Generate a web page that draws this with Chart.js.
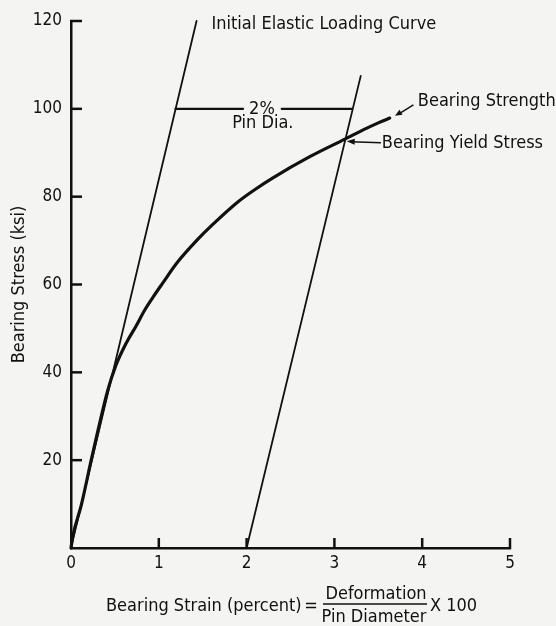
<!DOCTYPE html>
<html>
<head>
<meta charset="utf-8">
<script src="https://cdn.jsdelivr.net/npm/chart.js@4.4.1/dist/chart.umd.min.js"></script>
<style>
  html, body { margin: 0; padding: 0; background: #f4f4f2; }
  #wrap { width: 556px; height: 626px; position: relative; }
  canvas { display: block; }
</style>
</head>
<body>
<div id="wrap"><canvas id="c" width="556" height="626"></canvas></div>
<script>
// ---- Data ----
const curveStrain = [0, 0.02, 0.12, 0.23, 0.31, 0.42, 0.51, 0.63, 0.74, 0.84, 0.94, 1.04, 1.21, 1.44, 1.60, 1.90, 2.10, 2.30, 2.72, 3.12, 3.37, 3.50, 3.63];
const curveStress = [0, 2.6, 10, 20, 27, 36, 41.5, 46.7, 50.5, 54.2, 57.3, 60.2, 65, 70.2, 73.4, 78.8, 81.7, 84.3, 89.1, 93.1, 95.6, 96.8, 97.9];

const elasticStrain = [0, 1.43];
const elasticStress = [0, 120];

const offsetStrain = [2.0, 3.30];
const offsetStress = [0, 107.5];

const barLeftStrain = [1.19, 1.96];
const barRightStrain = [2.40, 3.20];
const barStress = [100, 100];

const xTicks = [0, 1, 2, 3, 4, 5];
const yTicks = [0, 20, 40, 60, 80, 100, 120];

const FONT = "'DejaVu Sans Condensed', 'Liberation Sans Narrow', 'Arial Narrow', sans-serif";
const INK = '#111111';

function pts(xs, ys) { return xs.map((x, i) => ({ x: x, y: ys[i] })); }

const lineDs = (data, w, smooth) => ({
  data: data, borderColor: INK, borderWidth: w, pointRadius: 0,
  fill: false, tension: smooth ? 0.4 : 0, cubicInterpolationMode: smooth ? 'monotone' : 'default',
  showLine: true, clip: false, borderCapStyle: 'round', borderJoinStyle: 'round'
});

const inwardTicks = {
  id: 'inwardTicks',
  afterDatasetsDraw(chart) {
    const ctx = chart.ctx;
    const xs = chart.scales.x, ys = chart.scales.y;
    ctx.save();
    ctx.strokeStyle = INK;
    ctx.lineWidth = 2.5;
    ctx.lineCap = 'butt';
    const x0 = xs.getPixelForValue(0);
    yTicks.forEach(v => {
      if (v === 0) return;
      const py = ys.getPixelForValue(v);
      ctx.beginPath(); ctx.moveTo(x0 - 1, py); ctx.lineTo(x0 + 11, py); ctx.stroke();
    });
    const y0 = ys.getPixelForValue(0);
    xTicks.forEach(v => {
      if (v === 0) return;
      const px = xs.getPixelForValue(v);
      ctx.beginPath(); ctx.moveTo(px, y0 + 1); ctx.lineTo(px, y0 - 10); ctx.stroke();
    });
    ctx.restore();
  }
};

function arrowHead(ctx, fx, fy, tx, ty, len, wid) {
  const a = Math.atan2(ty - fy, tx - fx);
  ctx.beginPath();
  ctx.moveTo(tx, ty);
  ctx.lineTo(tx - len * Math.cos(a) + wid * Math.sin(a), ty - len * Math.sin(a) - wid * Math.cos(a));
  ctx.lineTo(tx - len * Math.cos(a) - wid * Math.sin(a), ty - len * Math.sin(a) + wid * Math.cos(a));
  ctx.closePath();
  ctx.fill();
}

const annotations = {
  id: 'annotations',
  afterDraw(chart) {
    const ctx = chart.ctx;
    const xs = chart.scales.x, ys = chart.scales.y;
    const X = v => xs.getPixelForValue(v), Y = v => ys.getPixelForValue(v);
    ctx.save();
    ctx.fillStyle = INK;
    ctx.strokeStyle = INK;
    ctx.font = '18px ' + FONT;
    ctx.textBaseline = 'middle';

    // Initial Elastic Loading Curve
    ctx.textAlign = 'left';
    ctx.fillText('Initial Elastic Loading Curve', X(1.60), Y(119.3));

    // 2% / Pin Dia.
    ctx.textAlign = 'center';
    ctx.fillText('2%', X(2.175), Y(100));
    ctx.fillText('Pin Dia.', X(2.185), Y(96.6));

    // Bearing Strength + arrow
    ctx.textAlign = 'left';
    ctx.fillText('Bearing Strength', X(3.95), Y(101.6));
    ctx.lineWidth = 1.5;
    ctx.beginPath(); ctx.moveTo(X(3.90), Y(100.9)); ctx.lineTo(X(3.73), Y(98.8)); ctx.stroke();
    arrowHead(ctx, X(3.90), Y(100.9), X(3.69), Y(98.4), 7, 3);

    // Bearing Yield Stress + arrow
    ctx.fillText('Bearing Yield Stress', X(3.54), Y(92.2));
    ctx.beginPath(); ctx.moveTo(X(3.53), Y(92.3)); ctx.lineTo(X(3.19), Y(92.5)); ctx.stroke();
    arrowHead(ctx, X(3.53), Y(92.3), X(3.14), Y(92.6), 8, 3);

    // X axis title with fraction
    const yMid = 606;
    ctx.font = '18px ' + FONT;
    ctx.textAlign = 'left';
    ctx.fillText('Bearing Strain (percent)', 106, yMid);
    ctx.textAlign = 'center';
    ctx.fillText('=', 311, yMid);
    ctx.fillText('Deformation', 376, 594);
    ctx.fillText('Pin Diameter', 374, 617);
    ctx.lineWidth = 1.6;
    ctx.beginPath(); ctx.moveTo(323, 604); ctx.lineTo(427, 604); ctx.stroke();
    ctx.textAlign = 'left';
    ctx.fillText('X 100', 430, yMid);
    ctx.restore();
  }
};

const chart = new Chart(document.getElementById('c'), {
  type: 'scatter',
  data: {
    datasets: [
      lineDs(pts(curveStrain, curveStress), 3.2, true),
      lineDs(pts(elasticStrain, elasticStress), 1.8, false),
      lineDs(pts(offsetStrain, offsetStress), 1.8, false),
      lineDs(pts(barLeftStrain, barStress), 2.2, false),
      lineDs(pts(barRightStrain, barStress), 2.2, false)
    ]
  },
  options: {
    responsive: false,
    animation: false,
    events: [],
    layout: { padding: { top: 21, right: 46, left: 0, bottom: 0 } },
    plugins: { legend: { display: false }, tooltip: { enabled: false } },
    scales: {
      x: {
        type: 'linear', min: 0, max: 5,
        afterFit(s) { s.height = 78; },
        afterBuildTicks(s) { s.ticks = xTicks.map(v => ({ value: v })); },
        grid: { drawOnChartArea: false, drawTicks: false },
        border: { display: true, color: INK, width: 2.5 },
        ticks: { color: INK, padding: 5, font: { size: 17, family: FONT }, maxRotation: 0 }
      },
      y: {
        type: 'linear', min: 0, max: 120,
        afterFit(s) { s.width = 71; },
        afterBuildTicks(s) { s.ticks = yTicks.map(v => ({ value: v })); },
        grid: { drawOnChartArea: false, drawTicks: false },
        border: { display: true, color: INK, width: 2.5 },
        ticks: { color: INK, padding: 9, font: { size: 17, family: FONT },
                 callback: v => (v === 0 ? '' : String(v)) },
        title: { display: true, text: 'Bearing Stress (ksi)', color: INK,
                 font: { size: 18, family: FONT }, padding: { top: 9, bottom: 0 } }
      }
    }
  },
  plugins: [inwardTicks, annotations]
});
</script>
</body>
</html>
